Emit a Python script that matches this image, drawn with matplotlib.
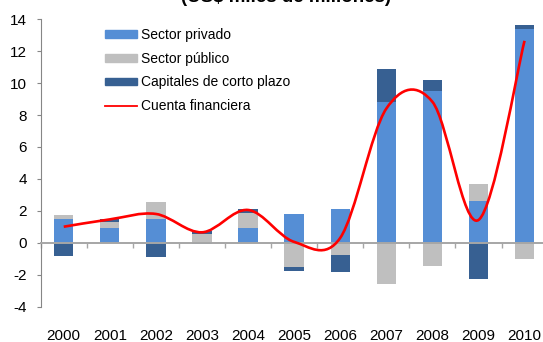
import numpy as np
import matplotlib
matplotlib.use("Agg")
import matplotlib.pyplot as plt
from matplotlib.path import Path
from matplotlib.patches import PathPatch
from matplotlib.lines import Line2D
from matplotlib.transforms import blended_transform_factory

plt.rcParams["font.family"] = ["Liberation Sans", "DejaVu Sans"]

# flujos de la cuenta financiera, US$ miles de millones
anios = ["2000", "2001", "2002", "2003", "2004", "2005",
         "2006", "2007", "2008", "2009", "2010"]
privado = [1.48, 0.94, 1.48, -0.10, 0.94, 1.80, 2.11, 8.83, 9.52, 2.61, 13.39]
publico = [0.25, 0.36, 1.07, 0.55, 0.90, -1.50, -0.77, -2.59, -1.44, 1.07, -1.00]
corto = [-0.81, 0.16, -0.88, 0.16, 0.25, -0.25, -1.05, 2.05, 0.67, -2.25, 0.25]
cuenta = [1.0, 1.46, 1.8, 0.65, 2.05, 0.05, 0.3, 8.4, 8.83, 1.42, 12.65]

series = [("Sector privado", privado, "#558ed5"),
          ("Sector público", publico, "#bfbfbf"),
          ("Capitales de corto plazo", corto, "#376092")]

fig = plt.figure(figsize=(5.43, 3.42), dpi=100)
ax = fig.add_axes([40.7 / 543, 0.1038, 11 * 46.08 / 543, 0.8398])

x = np.arange(len(anios))
pos = np.zeros(len(anios))
neg = np.zeros(len(anios))
handles = []
for nombre, vals, color in series:
    v = np.array(vals)
    base = np.where(v >= 0, pos, neg)
    ax.bar(x, v, bottom=base, width=0.42, color=color, zorder=2)
    pos = pos + np.where(v >= 0, v, 0)
    neg = neg + np.where(v < 0, v, 0)
    handles.append(plt.Rectangle((0, 0), 1, 1, color=color, label=nombre))

# linea suavizada (bezier tipo catmull-rom, como en excel)
y = np.array(cuenta, dtype=float)
verts = [(x[0], y[0])]
codes = [Path.MOVETO]
n = len(y)
for i in range(n - 1):
    y0 = y[i - 1] if i > 0 else y[i]
    x0 = x[i - 1] if i > 0 else x[i]
    y3 = y[i + 2] if i + 2 < n else y[i + 1]
    x3 = x[i + 2] if i + 2 < n else x[i + 1]
    c1 = (x[i] + (x[i + 1] - x0) / 6, y[i] + (y[i + 1] - y0) / 6)
    c2 = (x[i + 1] - (x3 - x[i]) / 6, y[i + 1] - (y3 - y[i]) / 6)
    verts += [c1, c2, (x[i + 1], y[i + 1])]
    codes += [Path.CURVE4] * 3
ax.add_patch(PathPatch(Path(verts, codes), facecolor="none",
                       edgecolor="#ff0000", lw=1.9, zorder=4))
handles.append(Line2D([], [], color="#ff0000", lw=1.3, label="Cuenta financiera"))

ax.set_xlim(-0.5, 10.5)
ax.set_ylim(-4, 14)
ax.set_yticks(range(-4, 15, 2))
ax.set_yticklabels([str(t) for t in range(-4, 15, 2)], fontsize=11)

for s in ["top", "right"]:
    ax.spines[s].set_visible(False)
ax.spines["left"].set_color("#868686")
ax.spines["bottom"].set_position(("data", 0))
ax.spines["bottom"].set_color("#a6a6a6")
ax.spines["bottom"].set_linewidth(1.4)
ax.spines["bottom"].set_zorder(3)
ax.set_xticks(np.arange(-0.5, 11, 1))
ax.set_xticklabels([])
ax.tick_params(axis="x", direction="out", length=3.5, color="#a6a6a6", width=1)
ax.tick_params(axis="y", direction="out", length=3, color="#868686", pad=7)

tr = blended_transform_factory(ax.transData, ax.transAxes)
for i, a in enumerate(anios):
    ax.text(i, -0.102, a, transform=tr, ha="center", va="center",
            fontsize=11, clip_on=False)

fig.text(0.527, 0.993, "(US$ miles de millones)", ha="center",
         va="baseline", fontsize=13.5, fontweight="bold")

ax.legend(handles=handles, loc="upper left", frameon=False, fontsize=10,
          bbox_to_anchor=(105 / 543, 1 - 28 / 342),
          bbox_transform=fig.transFigure, borderpad=0, borderaxespad=0,
          handlelength=2.3, handleheight=0.45, handletextpad=0.3,
          labelspacing=0.7)

fig.savefig("out.png", dpi=100)
